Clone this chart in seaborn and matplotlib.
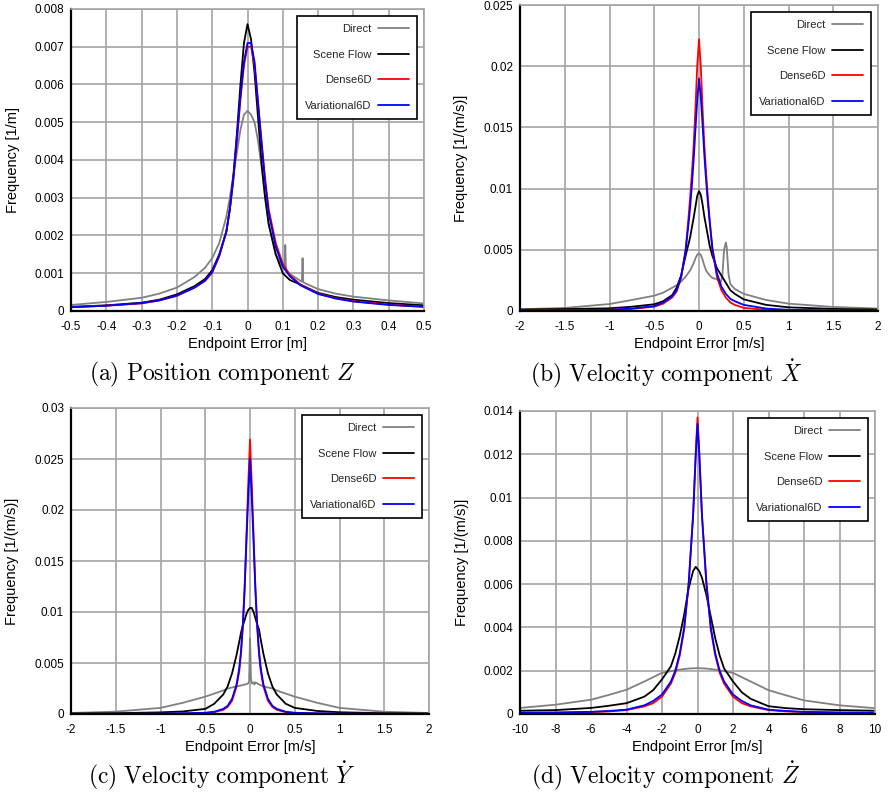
import pandas as pd
import seaborn as sns
import matplotlib.pyplot as plt

# ---------------- data ----------------
methods = ["Direct", "Scene Flow", "Dense6D", "Variational6D"]

# (a) position component Z, error in m
a_x = [-0.5, -0.4, -0.3, -0.25, -0.2, -0.15, -0.12, -0.1, -0.08, -0.06, -0.05, -0.04,
       -0.03, -0.02, -0.01, 0, 0.01, 0.02, 0.03, 0.04, 0.05, 0.06, 0.08, 0.1, 0.12,
       0.15, 0.2, 0.25, 0.3, 0.4, 0.5]
a_scene = [0.00011, 0.00015, 0.00022, 0.00030, 0.00044, 0.00066, 0.00085, 0.00108, 0.0015,
           0.0021, 0.0027, 0.0036, 0.0047, 0.0060, 0.0071, 0.0076, 0.0072, 0.0063, 0.0051,
           0.0039, 0.0030, 0.0023, 0.0015, 0.00100, 0.00082, 0.00070, 0.00048, 0.00037,
           0.00030, 0.00021, 0.00015]
a_dense = [0.00010, 0.00014, 0.00020, 0.00028, 0.00040, 0.00062, 0.00080, 0.00102, 0.00145,
           0.0021, 0.0027, 0.0035, 0.0045, 0.0056, 0.0065, 0.0070, 0.0070, 0.0065, 0.0055,
           0.0045, 0.0035, 0.0027, 0.0018, 0.00125, 0.00095, 0.00070, 0.00046, 0.00034,
           0.00026, 0.00017, 0.00011]
a_var = [0.00010, 0.00014, 0.00021, 0.00028, 0.00041, 0.00062, 0.00081, 0.00103, 0.00147,
         0.0021, 0.0027, 0.0035, 0.0046, 0.0057, 0.0066, 0.0071, 0.0071, 0.0066, 0.0055,
         0.0044, 0.0034, 0.0026, 0.0017, 0.00118, 0.00092, 0.00068, 0.00045, 0.00033,
         0.00025, 0.00016, 0.00011]
a_direct_x = [-0.5, -0.4, -0.3, -0.25, -0.2, -0.15, -0.12, -0.1, -0.08, -0.06, -0.05, -0.04,
              -0.03, -0.02, -0.01, 0, 0.01, 0.02, 0.03, 0.04, 0.05, 0.06, 0.08, 0.1, 0.105,
              0.107, 0.109, 0.12, 0.15, 0.154, 0.156, 0.158, 0.2, 0.25, 0.3, 0.4, 0.5]
a_direct = [0.00016, 0.00024, 0.00035, 0.00046, 0.00062, 0.00090, 0.00115, 0.0014, 0.0018,
            0.0025, 0.0030, 0.0036, 0.0042, 0.0048, 0.0052, 0.0053, 0.0052, 0.0050, 0.0045,
            0.0038, 0.0030, 0.0023, 0.0015, 0.00115, 0.0011, 0.00175, 0.0011, 0.00098,
            0.00080, 0.00078, 0.0014, 0.00076, 0.00058, 0.00046, 0.00038, 0.00028, 0.0002]

# (b) velocity component X-dot, error in m/s
b_x = [-2, -1.5, -1, -0.75, -0.5, -0.4, -0.3, -0.25, -0.2, -0.15, -0.12, -0.1, -0.08, -0.06,
       -0.04, -0.02, 0, 0.02, 0.04, 0.06, 0.08, 0.1, 0.12, 0.15, 0.2, 0.25, 0.3, 0.35, 0.4,
       0.5, 0.75, 1, 1.5, 2]
b_dense = [0.00003, 0.00005, 0.0001, 0.00018, 0.00035, 0.0006, 0.0011, 0.0016, 0.0027, 0.0050,
           0.0074, 0.0092, 0.0112, 0.0135, 0.0165, 0.0200, 0.0222, 0.0200, 0.0165, 0.0135,
           0.0112, 0.0092, 0.0074, 0.0050, 0.0028, 0.0017, 0.0011, 0.0007, 0.0005, 0.00025,
           0.0001, 0.00006, 0.00003, 0.00002]
b_var = [0.00003, 0.00005, 0.0001, 0.0002, 0.0004, 0.0007, 0.0012, 0.0017, 0.0028, 0.0049,
         0.0069, 0.0084, 0.0102, 0.0123, 0.0148, 0.0172, 0.0190, 0.0175, 0.0152, 0.0127,
         0.0106, 0.0088, 0.0072, 0.0051, 0.0031, 0.0020, 0.0014, 0.0010, 0.0008, 0.0005,
         0.0002, 0.0001, 0.00005, 0.00003]
b_scene = [0.00012, 0.00016, 0.00022, 0.00035, 0.00055, 0.0008, 0.0013, 0.0019, 0.0029, 0.0045,
           0.0054, 0.0060, 0.0068, 0.0076, 0.0085, 0.0094, 0.0098, 0.0095, 0.0087, 0.0077,
           0.0069, 0.0061, 0.0053, 0.0045, 0.0035, 0.0029, 0.0023, 0.0017, 0.0014, 0.00095,
           0.0005, 0.0003, 0.00017, 0.00012]
b_direct_x = [-2, -1.5, -1, -0.75, -0.5, -0.4, -0.3, -0.25, -0.2, -0.15, -0.12, -0.1, -0.08,
              -0.06, -0.04, -0.02, 0, 0.02, 0.04, 0.06, 0.08, 0.1, 0.12, 0.15, 0.2, 0.24, 0.26,
              0.28, 0.3, 0.31, 0.33, 0.35, 0.4, 0.5, 0.75, 1, 1.5, 2]
b_direct = [0.00014, 0.00025, 0.00057, 0.0009, 0.00125, 0.0015, 0.0019, 0.0021, 0.0024, 0.0028,
            0.0031, 0.0033, 0.0036, 0.0039, 0.0043, 0.0046, 0.0047, 0.0046, 0.0042, 0.0037,
            0.0033, 0.0031, 0.0029, 0.0027, 0.0026, 0.0023, 0.0028, 0.0050, 0.0056, 0.0052,
            0.0030, 0.0022, 0.0018, 0.0014, 0.0009, 0.0006, 0.00033, 0.0002]

# (c) velocity component Y-dot
c_x = [-2, -1.5, -1, -0.75, -0.5, -0.4, -0.3, -0.25, -0.2, -0.15, -0.12, -0.1, -0.08, -0.06,
       -0.04, -0.02, 0, 0.02, 0.04, 0.06, 0.08, 0.1, 0.12, 0.15, 0.2, 0.25, 0.3, 0.4, 0.5,
       0.75, 1, 1.5, 2]
c_dense = [0.00001, 0.00002, 0.00003, 0.00005, 0.0001, 0.00018, 0.0004, 0.0007, 0.0013, 0.0027,
           0.0042, 0.0060, 0.0087, 0.0125, 0.0175, 0.0225, 0.0269, 0.0225, 0.0175, 0.0125,
           0.0087, 0.0060, 0.0042, 0.0027, 0.0013, 0.0007, 0.0004, 0.00018, 0.0001, 0.00005,
           0.00003, 0.00002, 0.00001]
c_var = [0.00001, 0.00002, 0.00004, 0.00007, 0.00012, 0.00022, 0.0005, 0.0008, 0.0015, 0.0029,
         0.0045, 0.0062, 0.0087, 0.0122, 0.0168, 0.0212, 0.0250, 0.0212, 0.0168, 0.0122,
         0.0087, 0.0062, 0.0045, 0.0029, 0.0015, 0.0008, 0.0005, 0.00022, 0.00012, 0.00007,
         0.00004, 0.00002, 0.00001]
c_scene = [0.00005, 0.00008, 0.00016, 0.00025, 0.0005, 0.0010, 0.0019, 0.0027, 0.0040, 0.0058,
           0.0071, 0.0080, 0.0087, 0.0092, 0.0098, 0.0102, 0.0104, 0.0104, 0.0100, 0.0094,
           0.0088, 0.0083, 0.0073, 0.0059, 0.0040, 0.0027, 0.0019, 0.0010, 0.0006, 0.0003,
           0.00017, 0.00008, 0.00005]
c_direct_x = [-2, -1.5, -1, -0.75, -0.5, -0.4, -0.3, -0.25, -0.2, -0.15, -0.1, -0.05, -0.02,
              -0.01, 0, 0.005, 0.01, 0.02, 0.04, 0.05, 0.06, 0.1, 0.15, 0.2, 0.25, 0.3, 0.4,
              0.5, 0.75, 1, 1.5, 2]
c_direct = [0.0001, 0.00023, 0.0006, 0.0011, 0.0017, 0.0020, 0.0023, 0.0025, 0.0026, 0.0027,
            0.0028, 0.0029, 0.0030, 0.0032, 0.0074, 0.0060, 0.0035, 0.0030, 0.0031, 0.0029,
            0.0031, 0.0029, 0.0027, 0.0026, 0.0025, 0.0023, 0.0020, 0.0017, 0.0011, 0.0006,
            0.00022, 0.0001]

# (d) velocity component Z-dot
d_x = [-10, -8, -6, -5, -4, -3, -2.5, -2, -1.5, -1.25, -1, -0.75, -0.5, -0.25, -0.1, 0, 0.1,
       0.25, 0.5, 0.75, 1, 1.25, 1.5, 2, 2.5, 3, 4, 5, 6, 8, 10]
d_dense = [0.00005, 0.00006, 0.00009, 0.00012, 0.00018, 0.00035, 0.0005, 0.0008, 0.0014, 0.0019,
           0.0027, 0.0039, 0.0060, 0.0092, 0.0121, 0.0137, 0.0121, 0.0092, 0.0060, 0.0039,
           0.0027, 0.0019, 0.0014, 0.0008, 0.0005, 0.00035, 0.00018, 0.00012, 0.00009,
           0.00006, 0.00005]
d_var = [0.00006, 0.00007, 0.0001, 0.00014, 0.0002, 0.0004, 0.0006, 0.0009, 0.0015, 0.0020,
         0.0028, 0.0040, 0.0060, 0.0091, 0.0119, 0.0134, 0.0120, 0.0092, 0.0061, 0.0040,
         0.0028, 0.0020, 0.0015, 0.0009, 0.0006, 0.0004, 0.0002, 0.00014, 0.0001, 0.00007,
         0.00006]
d_scene = [0.00015, 0.00018, 0.00028, 0.00038, 0.0005, 0.0008, 0.0011, 0.0016, 0.0022, 0.0028,
           0.0036, 0.0046, 0.0058, 0.0066, 0.0068, 0.0067, 0.0066, 0.0063, 0.0055, 0.0045,
           0.0035, 0.0027, 0.0021, 0.0015, 0.0010, 0.0007, 0.00036, 0.00027, 0.00022,
           0.00018, 0.00015]
d_direct_x = [-10, -8, -6, -5, -4, -3, -2.5, -2, -1.5, -1, -0.5, 0, 0.5, 1, 1.5, 2, 2.5, 3, 4,
              5, 6, 8, 10]
d_direct = [0.00028, 0.00043, 0.00066, 0.00088, 0.00112, 0.0015, 0.0017, 0.0019, 0.00198,
            0.00205, 0.0021, 0.00212, 0.0021, 0.00205, 0.00198, 0.0019, 0.0017, 0.0015, 0.0011,
            0.00086, 0.00063, 0.0004, 0.00027]

a_yticks = [0, 0.001, 0.002, 0.003, 0.004, 0.005, 0.006, 0.007, 0.008]
b_yticks = [0, 0.005, 0.01, 0.015, 0.02, 0.025]
c_yticks = [0, 0.005, 0.01, 0.015, 0.02, 0.025, 0.03]
d_yticks = [0, 0.002, 0.004, 0.006, 0.008, 0.01, 0.012, 0.014]
a_xticks = [-0.5, -0.4, -0.3, -0.2, -0.1, 0, 0.1, 0.2, 0.3, 0.4, 0.5]
v_xticks = [-2, -1.5, -1, -0.5, 0, 0.5, 1, 1.5, 2]
d_xticks = [-10, -8, -6, -4, -2, 0, 2, 4, 6, 8, 10]

palette = {"Direct": "#808080", "Scene Flow": "#000000",
           "Dense6D": "#ff0000", "Variational6D": "#0000ff"}


def long_table(series):
    frames = []
    for name, (xs, ys) in zip(methods, series):
        frames.append(pd.DataFrame({"error": xs, "freq": ys, "method": name}))
    return pd.concat(frames, ignore_index=True)


panels = [
    dict(df=long_table([(a_direct_x, a_direct), (a_x, a_scene), (a_x, a_dense), (a_x, a_var)]),
         rect=[71, 9, 424, 311], xlim=(-0.5, 0.5), xticks=a_xticks, yticks=a_yticks,
         xlabel="Endpoint Error [m]", ylabel="Frequency [1/m]",
         caption=r"$\mathrm{(a)\ Position\ component}\ Z$", cap=(0.25, 374)),
    dict(df=long_table([(b_direct_x, b_direct), (b_x, b_scene), (b_x, b_dense), (b_x, b_var)]),
         rect=[520, 5, 878, 311], xlim=(-2, 2), xticks=v_xticks, yticks=b_yticks,
         xlabel="Endpoint Error [m/s]", ylabel="Frequency [1/(m/s)]",
         caption=r"$\mathrm{(b)\ Velocity\ component}\ \dot{X}$", cap=(0.75, 374)),
    dict(df=long_table([(c_direct_x, c_direct), (c_x, c_scene), (c_x, c_dense), (c_x, c_var)]),
         rect=[71, 408, 429, 714], xlim=(-2, 2), xticks=v_xticks, yticks=c_yticks,
         xlabel="Endpoint Error [m/s]", ylabel="Frequency [1/(m/s)]",
         caption=r"$\mathrm{(c)\ Velocity\ component}\ \dot{Y}$", cap=(0.25, 776)),
    dict(df=long_table([(d_direct_x, d_direct), (d_x, d_scene), (d_x, d_dense), (d_x, d_var)]),
         rect=[520, 411, 875, 714], xlim=(-10, 10), xticks=d_xticks, yticks=d_yticks,
         xlabel="Endpoint Error [m/s]", ylabel="Frequency [1/(m/s)]",
         caption=r"$\mathrm{(d)\ Velocity\ component}\ \dot{Z}$", cap=(0.75, 776)),
]

# ---------------- style ----------------
sns.set_theme(style="white")
plt.rcParams["font.family"] = ["Liberation Sans", "DejaVu Sans"]
plt.rcParams["mathtext.fontset"] = "cm"
plt.rcParams["axes.unicode_minus"] = False

W, H = 888, 793
fig = plt.figure(figsize=(W / 100, H / 100), dpi=100)

for p in panels:
    x0, y0, x1, y1 = p["rect"]
    ax = fig.add_axes([x0 / W, 1 - y1 / H, (x1 - x0) / W, (y1 - y0) / H])

    sns.lineplot(data=p["df"], x="error", y="freq", hue="method", hue_order=methods,
                 palette=palette, linewidth=1.3, legend=False, ax=ax)

    ax.set_xlim(*p["xlim"])
    ax.set_ylim(p["yticks"][0], p["yticks"][-1])
    ax.set_xticks(p["xticks"])
    ax.set_yticks(p["yticks"])
    ax.set_xticklabels([f"{v:g}" for v in p["xticks"]])
    ax.set_yticklabels([f"{v:g}" for v in p["yticks"]])
    ax.tick_params(direction="in", length=4, width=1, color="black",
                   labelsize=8.5, pad=5, labelcolor="black")
    ax.tick_params(axis="x", pad=7)

    ax.grid(True, color="#a4a4a4", linewidth=1.2)
    ax.set_axisbelow(True)
    for side in ["left", "bottom"]:
        ax.spines[side].set_color("black")
        ax.spines[side].set_linewidth(1.6)
    for side in ["top", "right"]:
        ax.spines[side].set_color("#a4a4a4")
        ax.spines[side].set_linewidth(1.2)

    ax.set_xlabel(p["xlabel"], fontsize=10.5, color="black")
    ax.set_ylabel(p["ylabel"], fontsize=10.5, color="black")
    ax.xaxis.set_label_coords(0.5, -0.085)
    ax.yaxis.set_label_coords(-0.145, 0.5)

    leg = ax.legend(ax.get_lines(), methods, loc="upper right", markerfirst=False,
                    fontsize=8, frameon=True, fancybox=False, edgecolor="black",
                    framealpha=1, handlelength=2.8, handletextpad=0.6,
                    labelspacing=1.4, borderpad=0.75, borderaxespad=0.6)
    leg.get_frame().set_linewidth(1.2)
    for col in leg._legend_handle_box.get_children():
        col.align = "right"

    fig.text(p["cap"][0], 1 - p["cap"][1] / H, p["caption"], ha="center", va="center",
             fontsize=17, color="black")

plt.savefig("out.png", dpi=100)
